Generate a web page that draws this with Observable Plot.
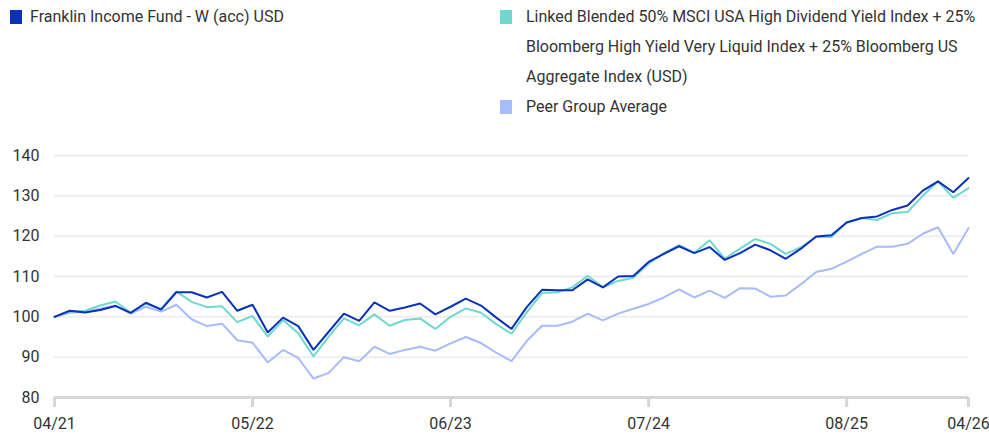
<!DOCTYPE html>
<html>
<head>
<meta charset="utf-8">
<script src="https://cdn.jsdelivr.net/npm/d3@7"></script>
<script src="https://cdn.jsdelivr.net/npm/@observablehq/plot@0.6"></script>
<style>
  html, body { margin: 0; padding: 0; background: #fff; }
  #wrap { position: relative; width: 989px; height: 439px; font-family: Roboto, "Noto Sans", sans-serif; color: #333; }
  .leg { position: absolute; font-size: 16px; line-height: 30px; white-space: nowrap; }
  .sw { position: absolute; width: 12px; height: 14px; }
  #chart { position: absolute; left: 0; top: 130px; }
</style>
</head>
<body>
<div id="wrap">
  <div class="sw" style="left:10px; top:10px; background:#0b31b8"></div>
  <div class="leg" style="left:30px; top:2px;">Franklin Income Fund - W (acc) USD</div>
  <div class="sw" style="left:500px; top:10px; background:#6fd8cf"></div>
  <div class="leg" style="left:526px; top:2px;">Linked Blended 50% MSCI USA High Dividend Yield Index + 25%<br>Bloomberg High Yield Very Liquid Index + 25% Bloomberg US<br>Aggregate Index (USD)</div>
  <div class="sw" style="left:500px; top:100px; background:#a8bbfb"></div>
  <div class="leg" style="left:526px; top:92px;">Peer Group Average</div>
  <div id="chart"></div>
</div>
<script>
const months = [
  "04/21","05/21","06/21","07/21","08/21","09/21","10/21","11/21","12/21",
  "01/22","02/22","03/22","04/22","05/22","06/22","07/22","08/22","09/22","10/22","11/22","12/22",
  "01/23","02/23","03/23","04/23","05/23","06/23","07/23","08/23","09/23","10/23","11/23","12/23",
  "01/24","02/24","03/24","04/24","05/24","06/24","07/24","08/24","09/24","10/24","11/24","12/24",
  "01/25","02/25","03/25","04/25","05/25","06/25","07/25","08/25","09/25","10/25","11/25","12/25",
  "01/26","02/26","03/26","04/26"
];
const tickLabels = ["04/21","05/22","06/23","07/24","08/25","04/26"];
const seriesNames = [
  "Franklin Income Fund - W (acc) USD",
  "Linked Blended 50% MSCI USA High Dividend Yield Index + 25% Bloomberg High Yield Very Liquid Index + 25% Bloomberg US Aggregate Index (USD)",
  "Peer Group Average"
];
const fund = [100,101.5,101.1,101.7,102.7,101.0,103.5,101.8,106.1,106.1,104.8,106.2,101.5,103.0,96.1,99.8,97.7,91.8,96.3,100.8,99.0,103.6,101.5,102.3,103.3,100.6,102.5,104.5,102.8,99.8,97.0,102.4,106.7,106.6,106.6,109.3,107.3,110.0,110.1,113.6,115.6,117.5,115.8,117.3,114.1,115.8,117.9,116.5,114.4,116.9,119.9,120.2,123.4,124.5,124.9,126.5,127.6,131.3,133.6,130.9,134.4];
const benchmark = [100,101.3,101.5,102.8,103.8,101.0,103.3,102.0,106.3,103.7,102.4,102.6,98.7,100.2,95.1,99.2,95.9,90.2,95.1,99.6,97.9,100.6,97.8,99.2,99.6,97.0,100.0,102.1,101.0,98.2,95.8,101.1,105.9,106.1,107.3,110.2,107.3,108.9,109.7,113.2,115.8,117.8,115.9,119.0,114.4,116.9,119.3,118.1,115.6,117.3,119.8,119.8,123.4,124.5,124.0,125.7,126.0,130.0,133.6,129.5,131.9];
const peer = [100,101.0,101.3,102.0,102.8,100.8,102.5,101.3,103.0,99.4,97.7,98.3,94.2,93.6,88.7,91.8,89.8,84.7,86.1,90.0,89.0,92.6,90.8,91.8,92.6,91.6,93.4,95.0,93.5,91.1,89.0,94.0,97.8,97.8,98.8,100.8,99.1,100.8,102.0,103.2,104.8,106.8,104.8,106.5,104.7,107.1,107.0,105.0,105.3,108.1,111.1,111.9,113.7,115.6,117.4,117.4,118.1,120.6,122.2,115.6,122.0];
const yTicks = [80, 90, 100, 110, 120, 130, 140];
const colors = ["#0b31b8", "#6fd8cf", "#a8bbfb"];

const drawOrder = [[peer, 2], [benchmark, 1], [fund, 0]];
const rows = drawOrder.flatMap(([vals, k]) => vals.map((v, i) => ({month: months[i], value: v, series: seriesNames[k]})));

const chart = Plot.plot({
  width: 989,
  height: 309,
  marginTop: 25,
  marginBottom: 42,
  marginLeft: 54,
  marginRight: 21,
  style: {fontFamily: "Roboto, 'Noto Sans', sans-serif", fontSize: "16px", color: "#333", background: "#fff"},
  x: {type: "point", domain: months, padding: 0, round: false, label: null},
  y: {domain: [80, 140], label: null},
  color: {domain: seriesNames, range: colors},
  marks: [
    Plot.gridY(yTicks.slice(1), {stroke: "#eeeeee", strokeOpacity: 1, strokeWidth: 2}),
    Plot.ruleY([80], {stroke: "#d6d6d6", strokeWidth: 3}),
    Plot.axisY(yTicks, {tickSize: 0, tickPadding: 15, fill: "#333", label: null}),
    Plot.axisX(tickLabels, {tickSize: 10, tickPadding: 10, stroke: "#d6d6d6", strokeWidth: 3, fill: "#333", label: null}),
    Plot.line(rows, {x: "month", y: "value", z: "series", stroke: "series", strokeWidth: 2, strokeLinejoin: "miter"})
  ]
});
document.getElementById("chart").appendChild(chart);
</script>
</body>
</html>
